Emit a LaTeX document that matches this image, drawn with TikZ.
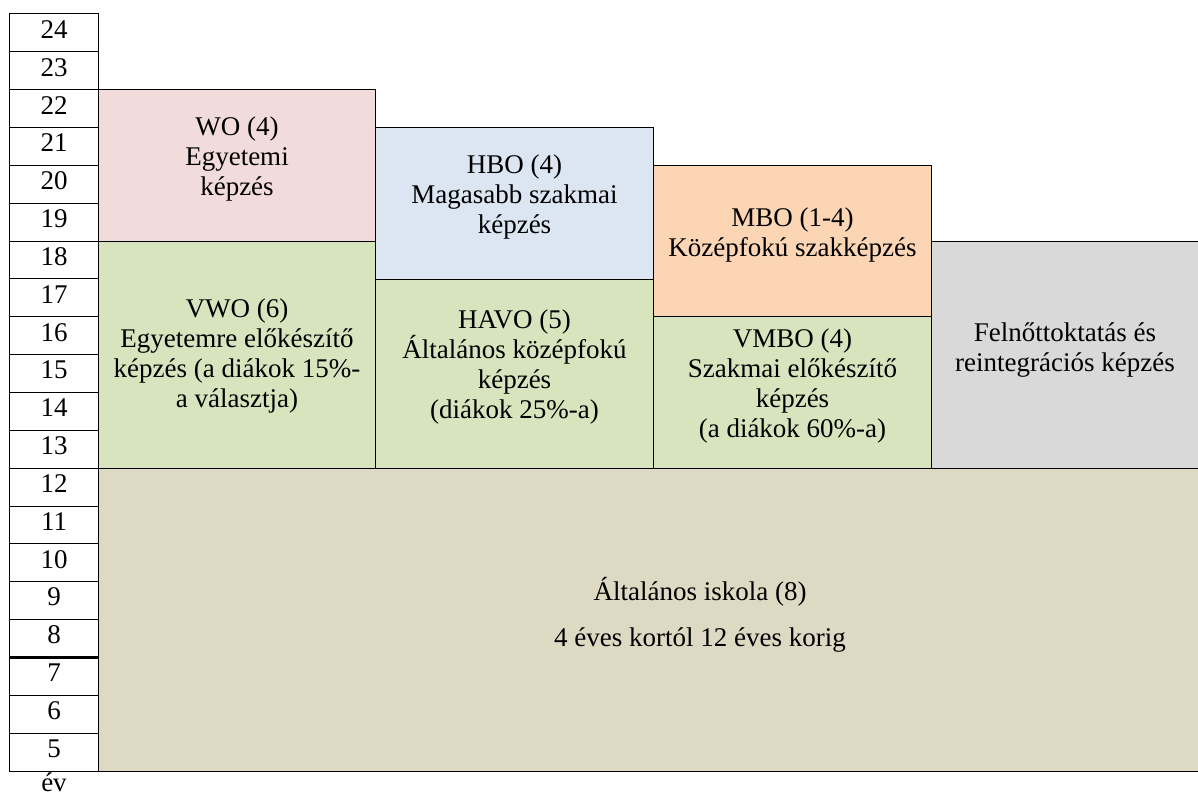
\documentclass[tikz,border=0pt]{standalone}
\usepackage{fontspec}
\setmainfont{Liberation Serif}
\definecolor{cwo}{HTML}{F2DCDB}
\definecolor{chbo}{HTML}{DCE6F2}
\definecolor{cgreen}{HTML}{D7E4BD}
\definecolor{cmbo}{HTML}{FCD5B5}
\definecolor{cgrey}{HTML}{D9D9D9}
\definecolor{cbase}{HTML}{DDD9C3}
\begin{document}
\begin{tikzpicture}[x=0.75pt,y=-0.75pt,
  box/.style={draw=black, line width=0.75pt},
  lbl/.style={inner sep=0pt, align=center, font=\fontsize{20.25pt}{22.5pt}\selectfont},
  num/.style={inner sep=0pt, font=\fontsize{20.25pt}{22.5pt}\selectfont}]
\useasboundingbox (0,0) rectangle (1198,802);
\fill[white] (0,0) rectangle (1198,802);
% year column
\foreach \i in {0,...,19}{
  \pgfmathsetmacro\yt{14+\i*37.85}
  \pgfmathsetmacro\yb{14+(\i+1)*37.85}
  \pgfmathsetmacro\yc{14+\i*37.85+18.9-3.5}
  \pgfmathtruncatemacro\n{24-\i}
  \draw[box] (9.3,\yt) rectangle (98.7,\yb);
  \node[num] (y\n) at (54,\yc) {\n};
}
\draw[line width=1.6pt] (9.3,657.5) -- (98.7,657.5);
% boxes
\draw[box, fill=cwo]    (98.7,89.7)   rectangle (375.7,241.1);
\draw[box, fill=cgreen] (98.7,241.1)  rectangle (375.7,468.8);
\draw[box, fill=chbo]   (375.7,127.6) rectangle (653.3,279);
\draw[box, fill=cgreen] (375.7,279)   rectangle (653.3,468.8);
\draw[box, fill=cmbo]   (653.3,165.4) rectangle (931.5,316.8);
\draw[box, fill=cgreen] (653.3,316.8) rectangle (931.5,468.8);
\draw[box, fill=cgrey]  (931.5,241.1) rectangle (1205,468.8);
\draw[box, fill=cbase]  (98.7,468.8)  rectangle (1205,771);
% labels
\node[lbl] (wo)   at (237,159.5) {WO (4)\\Egyetemi\\képzés};
\node[lbl] (vwo)  at (237,356)   {VWO (6)\\Egyetemre előkészítő\\képzés (a diákok 15\%-\\a választja)};
\node[lbl] (hbo)  at (514.5,197) {HBO (4)\\Magasabb szakmai\\képzés};
\node[lbl] (havo) at (514.5,367) {HAVO (5)\\Általános középfokú\\képzés\\(diákok 25\%-a)};
\node[lbl] (mbo)  at (792.5,235.5) {MBO (1-4)\\Középfokú szakképzés};
\node[lbl] (vmbo) at (792.5,386) {VMBO (4)\\Szakmai előkészítő\\képzés\\(a diákok 60\%-a)};
\node[lbl] (felno) at (1065,350) {Felnőttoktatás és\\reintegrációs képzés};
\node[lbl] (alt)  at (700,614.5) {Általános iskola (8)\\[12pt]4 éves kortól 12 éves korig};
\node[num, anchor=base] (ev) at (54,791.7) {év};
\end{tikzpicture}
\end{document}
